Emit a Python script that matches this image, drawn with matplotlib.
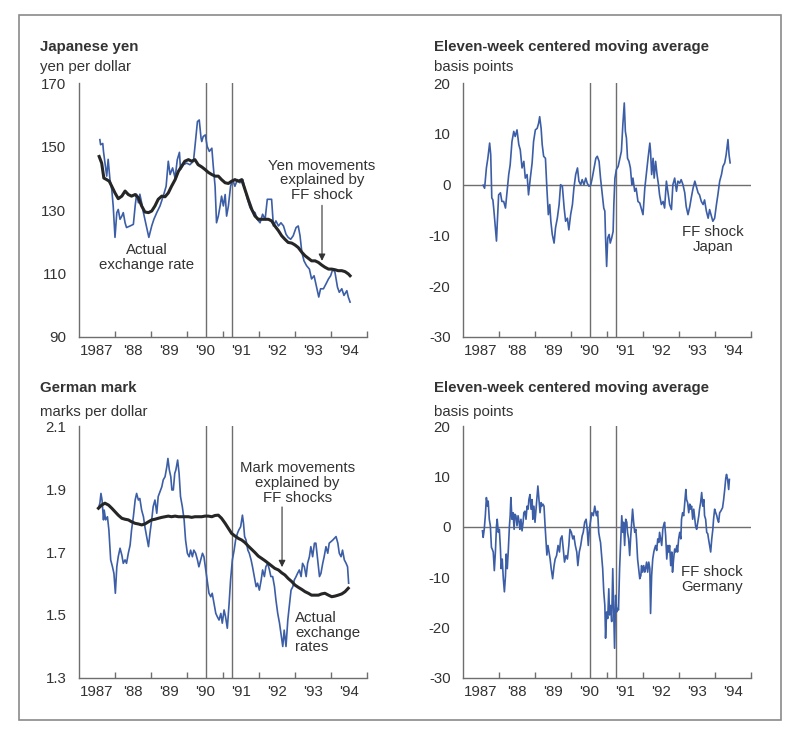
import numpy as np
import matplotlib
matplotlib.use("Agg")
import matplotlib.pyplot as plt
from matplotlib.patches import Rectangle

plt.rcParams['font.family'] = ['Liberation Sans', 'DejaVu Sans']

# ---- data (time as years since start of 1987) ----
year_labels = ['1987', "'88", "'89", "'90", "'91", "'92", "'93", "'94"]
recession = [1990.54, 1991.25]

yen_actual_t = [0.58, 0.60, 0.66, 0.68, 0.72, 0.77, 0.81, 0.86, 0.91, 0.95,
                1.00, 1.05, 1.09, 1.14, 1.19, 1.23, 1.28, 1.32, 1.42, 1.51,
                1.56, 1.60, 1.65, 1.69, 1.74, 1.79, 1.83, 1.88, 1.94, 2.02,
                2.08, 2.16, 2.25, 2.34, 2.42, 2.48, 2.53, 2.60, 2.67, 2.73,
                2.79, 2.82, 2.90, 2.99, 3.08, 3.18, 3.24, 3.29, 3.34, 3.39,
                3.41, 3.45, 3.51, 3.56, 3.62, 3.69, 3.73, 3.78, 3.82, 3.87,
                3.92, 3.96, 4.01, 4.06, 4.10, 4.15, 4.21, 4.27, 4.33, 4.40,
                4.47, 4.55, 4.61, 4.68, 4.75, 4.82, 4.89, 4.95, 5.03, 5.10,
                5.17, 5.23, 5.29, 5.35, 5.40, 5.47, 5.54, 5.61, 5.68, 5.75,
                5.81, 5.88, 5.95, 6.03, 6.09, 6.14, 6.19, 6.25, 6.32, 6.40,
                6.46, 6.53, 6.60, 6.66, 6.71, 6.79, 6.86, 6.93, 6.99, 7.05,
                7.11, 7.18, 7.23, 7.30, 7.36, 7.44, 7.48, 7.53]
yen_actual = [152.2, 150.6, 151.0, 148.5, 145.0, 140.7, 146.0, 139.6, 136.5, 131.3,
              121.4, 129.2, 130.2, 127.1, 128.1, 129.2, 126.0, 124.5, 125.0, 125.5,
              131.3, 135.0, 132.3, 135.0, 132.3, 129.2, 127.1, 124.5, 121.4, 125.0,
              127.1, 129.2, 131.3, 134.4, 137.5, 145.4, 141.2, 143.3, 140.1, 145.9,
              148.2, 142.8, 144.3, 144.8, 144.3, 145.4, 152.2, 157.9, 158.4, 152.7,
              151.6, 153.2, 153.7, 150.1, 148.5, 149.5, 143.8, 137.5, 126.0, 128.1,
              131.3, 134.4, 131.3, 134.9, 128.1, 131.3, 137.5, 139.6, 137.5, 139.6,
              138.6, 139.6, 136.5, 133.4, 130.8, 129.7, 129.2, 127.1, 126.0, 128.7,
              127.1, 133.4, 133.4, 133.4, 125.0, 126.6, 125.0, 126.0, 125.0, 122.4,
              121.4, 120.8, 121.9, 124.5, 125.0, 121.9, 116.7, 114.0, 112.5, 111.4,
              108.3, 109.3, 105.7, 102.6, 105.2, 105.2, 106.7, 108.3, 109.3, 111.4,
              110.4, 105.7, 104.1, 105.2, 103.1, 104.6, 102.6, 101.0]

yen_ff_t = [0.56, 0.63, 0.69, 0.77, 0.84, 0.91, 1.00, 1.09, 1.19, 1.28,
            1.37, 1.46, 1.56, 1.65, 1.74, 1.83, 1.93, 2.02, 2.11, 2.20,
            2.30, 2.39, 2.48, 2.57, 2.67, 2.76, 2.85, 2.94, 3.04, 3.13,
            3.22, 3.31, 3.41, 3.50, 3.59, 3.69, 3.78, 3.87, 3.96, 4.06,
            4.15, 4.24, 4.33, 4.43, 4.52, 4.61, 4.70, 4.80, 4.89, 4.98,
            5.07, 5.17, 5.26, 5.35, 5.44, 5.54, 5.63, 5.72, 5.81, 5.91,
            6.00, 6.09, 6.19, 6.28, 6.37, 6.46, 6.56, 6.65, 6.74, 6.83,
            6.93, 7.02, 7.11, 7.20, 7.30, 7.39, 7.48, 7.53]
yen_ff = [146.9, 144.8, 140.1, 139.6, 139.1, 137.5, 135.4, 133.6, 134.4, 136.0,
          134.9, 134.4, 134.9, 133.9, 131.3, 129.4, 129.2, 129.7, 131.3, 133.4,
          134.4, 134.2, 135.4, 137.5, 139.6, 142.2, 143.8, 145.4, 145.9, 145.4,
          145.9, 144.3, 143.6, 142.8, 141.9, 141.2, 140.7, 140.7, 139.6, 138.6,
          138.4, 139.1, 139.6, 139.1, 139.6, 136.5, 133.4, 130.2, 128.1, 127.1,
          127.1, 127.1, 127.1, 126.6, 125.0, 123.5, 121.9, 120.8, 119.8, 119.6,
          119.0, 118.2, 116.7, 115.6, 114.8, 114.0, 114.0, 113.5, 112.7, 112.0,
          111.4, 111.4, 111.2, 110.9, 110.9, 110.6, 109.9, 109.3]

jp_shock_t = [0.56, 0.60, 0.65, 0.69, 0.74, 0.77, 0.80, 0.83, 0.86, 0.90,
              0.93, 0.95, 0.99, 1.04, 1.08, 1.13, 1.18, 1.22, 1.27, 1.31,
              1.36, 1.41, 1.45, 1.50, 1.55, 1.59, 1.64, 1.69, 1.73, 1.78,
              1.82, 1.87, 1.92, 1.96, 2.01, 2.06, 2.10, 2.13, 2.17, 2.20,
              2.24, 2.29, 2.33, 2.37, 2.41, 2.44, 2.48, 2.53, 2.57, 2.62,
              2.67, 2.71, 2.76, 2.81, 2.85, 2.90, 2.94, 2.99, 3.04, 3.08,
              3.13, 3.18, 3.22, 3.27, 3.31, 3.36, 3.41, 3.45, 3.50, 3.55,
              3.59, 3.64, 3.69, 3.73, 3.78, 3.82, 3.87, 3.91, 3.94, 3.96,
              3.99, 4.02, 4.06, 4.09, 4.13, 4.17, 4.19, 4.22, 4.26, 4.31,
              4.35, 4.40, 4.44, 4.48, 4.51, 4.54, 4.57, 4.61, 4.65, 4.69,
              4.72, 4.77, 4.81, 4.86, 4.91, 4.95, 5.00, 5.05, 5.09, 5.14,
              5.19, 5.21, 5.24, 5.28, 5.31, 5.35, 5.39, 5.43, 5.46, 5.51,
              5.56, 5.60, 5.65, 5.69, 5.74, 5.79, 5.83, 5.88, 5.93, 5.97,
              6.02, 6.06, 6.11, 6.16, 6.20, 6.25, 6.30, 6.34, 6.39, 6.44,
              6.48, 6.53, 6.57, 6.62, 6.67, 6.71, 6.76, 6.81, 6.85, 6.90,
              6.94, 6.99, 7.04, 7.08, 7.13, 7.18, 7.22, 7.27, 7.31, 7.36,
              7.39, 7.42]
jp_shock = [-0.1, -0.7, 3.3, 5.2, 8.2, 5.9, -2.6, -3.0, -5.2, -8.5,
            -11.1, -7.9, -2.0, -1.6, -3.3, -3.3, -4.6, -1.6, 2.0, 3.9,
            8.5, 10.5, 9.5, 10.8, 7.9, 6.9, 3.3, 4.6, 1.3, 2.0,
            -2.0, 1.3, 4.3, 8.5, 10.8, 11.1, 12.1, 13.4, 11.1, 7.9,
            5.6, 5.2, -0.7, -5.9, -3.9, -7.2, -9.8, -11.5, -8.5, -6.6,
            -3.9, 0.0, -0.3, -4.6, -7.2, -6.6, -8.9, -5.9, -3.9, -0.7,
            2.0, 3.3, 0.7, 0.0, 1.0, 0.0, 1.3, 0.3, -0.3, 0.0,
            1.3, 3.3, 5.2, 5.6, 4.6, 1.3, -2.0, -4.6, -5.2, -10.5,
            -16.1, -10.5, -9.8, -11.5, -10.5, -9.2, -3.9, 1.3, 3.0, 3.6,
            4.9, 6.6, 11.8, 16.1, 10.5, 9.2, 5.2, 4.6, 3.3, 0.0,
            1.3, -1.3, -0.7, -3.3, -3.6, -4.6, -5.9, -0.7, 2.0, 5.2,
            8.2, 6.6, 2.0, 5.2, 1.3, 4.6, 2.0, 0.0, -2.0, -3.9,
            -3.3, -4.6, 0.7, -1.3, -3.9, -4.9, 0.0, 1.3, -1.3, 0.7,
            0.3, 1.0, 0.0, -1.6, -4.3, -5.9, -4.3, -2.6, -0.7, 0.7,
            -0.3, -1.6, -2.0, -3.3, -3.9, -3.0, -5.2, -6.6, -4.9, -6.2,
            -7.2, -6.6, -3.9, -2.0, 0.7, 2.0, 3.6, 4.3, 5.9, 8.9,
            5.9, 4.3]

mark_actual_t = [0.54, 0.58, 0.61, 0.64, 0.68, 0.70, 0.74, 0.79, 0.83, 0.88,
                 0.93, 0.97, 1.01, 1.05, 1.09, 1.14, 1.19, 1.23, 1.28, 1.32,
                 1.37, 1.42, 1.46, 1.51, 1.56, 1.60, 1.65, 1.69, 1.74, 1.79,
                 1.83, 1.88, 1.93, 1.97, 2.02, 2.06, 2.11, 2.16, 2.20, 2.25,
                 2.30, 2.34, 2.39, 2.44, 2.47, 2.51, 2.55, 2.58, 2.62, 2.66,
                 2.69, 2.74, 2.78, 2.82, 2.87, 2.92, 2.96, 3.01, 3.06, 3.10,
                 3.15, 3.19, 3.24, 3.29, 3.33, 3.38, 3.43, 3.47, 3.52, 3.56,
                 3.61, 3.66, 3.70, 3.75, 3.80, 3.84, 3.89, 3.94, 3.98, 4.03,
                 4.07, 4.12, 4.17, 4.21, 4.26, 4.31, 4.35, 4.40, 4.44, 4.49,
                 4.54, 4.57, 4.60, 4.64, 4.69, 4.73, 4.78, 4.82, 4.87, 4.92,
                 4.96, 5.01, 5.06, 5.10, 5.15, 5.19, 5.24, 5.29, 5.33, 5.38,
                 5.43, 5.47, 5.52, 5.57, 5.61, 5.66, 5.70, 5.75, 5.80, 5.84,
                 5.89, 5.94, 5.98, 6.03, 6.07, 6.12, 6.17, 6.21, 6.26, 6.31,
                 6.35, 6.40, 6.44, 6.49, 6.54, 6.58, 6.63, 6.68, 6.72, 6.77,
                 6.81, 6.86, 6.91, 6.95, 7.00, 7.05, 7.09, 7.14, 7.19, 7.23,
                 7.28, 7.32, 7.37, 7.42, 7.46, 7.49]
mark_actual = [1.839, 1.855, 1.886, 1.865, 1.802, 1.833, 1.802, 1.812, 1.770, 1.675,
               1.653, 1.632, 1.569, 1.653, 1.685, 1.712, 1.690, 1.664, 1.675, 1.664,
               1.696, 1.722, 1.770, 1.812, 1.865, 1.886, 1.865, 1.870, 1.833, 1.812,
               1.780, 1.749, 1.717, 1.759, 1.802, 1.844, 1.865, 1.823, 1.876, 1.892,
               1.907, 1.929, 1.939, 1.971, 1.997, 1.960, 1.939, 1.897, 1.897, 1.950,
               1.960, 1.992, 1.950, 1.876, 1.844, 1.802, 1.738, 1.696, 1.685, 1.706,
               1.685, 1.706, 1.696, 1.675, 1.653, 1.675, 1.696, 1.685, 1.643, 1.611,
               1.569, 1.558, 1.569, 1.537, 1.505, 1.495, 1.484, 1.505, 1.474, 1.516,
               1.495, 1.458, 1.537, 1.611, 1.675, 1.706, 1.738, 1.759, 1.770, 1.780,
               1.817, 1.791, 1.749, 1.738, 1.706, 1.696, 1.675, 1.653, 1.622, 1.590,
               1.601, 1.579, 1.611, 1.643, 1.622, 1.653, 1.664, 1.643, 1.622, 1.622,
               1.590, 1.548, 1.505, 1.474, 1.442, 1.400, 1.452, 1.400, 1.484, 1.526,
               1.579, 1.590, 1.611, 1.622, 1.632, 1.643, 1.622, 1.664, 1.653, 1.622,
               1.664, 1.685, 1.717, 1.685, 1.728, 1.728, 1.675, 1.622, 1.632, 1.664,
               1.685, 1.717, 1.696, 1.728, 1.733, 1.738, 1.743, 1.749, 1.728, 1.696,
               1.685, 1.706, 1.675, 1.664, 1.653, 1.601]

mark_ff_t = [0.54, 0.63, 0.72, 0.82, 0.91, 1.00, 1.09, 1.19, 1.28, 1.37,
             1.46, 1.56, 1.65, 1.74, 1.83, 1.93, 2.02, 2.11, 2.20, 2.30,
             2.39, 2.48, 2.57, 2.67, 2.76, 2.85, 2.94, 3.04, 3.13, 3.22,
             3.31, 3.41, 3.50, 3.59, 3.69, 3.78, 3.87, 3.96, 4.06, 4.15,
             4.24, 4.33, 4.43, 4.52, 4.61, 4.70, 4.80, 4.89, 4.98, 5.07,
             5.17, 5.26, 5.35, 5.44, 5.54, 5.63, 5.72, 5.81, 5.91, 6.00,
             6.09, 6.19, 6.28, 6.37, 6.46, 6.56, 6.65, 6.74, 6.83, 6.93,
             7.02, 7.11, 7.20, 7.30, 7.39, 7.48]
mark_ff = [1.839, 1.849, 1.855, 1.849, 1.839, 1.828, 1.817, 1.807, 1.804, 1.802,
           1.796, 1.791, 1.789, 1.786, 1.789, 1.796, 1.802, 1.804, 1.807, 1.810,
           1.812, 1.814, 1.812, 1.814, 1.812, 1.812, 1.812, 1.812, 1.810, 1.812,
           1.812, 1.812, 1.814, 1.814, 1.812, 1.816, 1.817, 1.807, 1.791, 1.775,
           1.759, 1.751, 1.743, 1.738, 1.730, 1.719, 1.708, 1.698, 1.687, 1.680,
           1.672, 1.664, 1.656, 1.648, 1.643, 1.634, 1.627, 1.616, 1.606, 1.595,
           1.588, 1.581, 1.574, 1.569, 1.563, 1.563, 1.563, 1.567, 1.569, 1.563,
           1.558, 1.560, 1.563, 1.567, 1.574, 1.585]

ge_shock_t = [0.54, 0.56, 0.59, 0.62, 0.65, 0.68, 0.70, 0.73, 0.76, 0.79,
              0.81, 0.84, 0.87, 0.90, 0.93, 0.95, 0.98, 1.01, 1.04, 1.06,
              1.09, 1.12, 1.15, 1.18, 1.20, 1.23, 1.26, 1.29, 1.31, 1.33,
              1.36, 1.39, 1.42, 1.44, 1.47, 1.50, 1.53, 1.56, 1.58, 1.61,
              1.64, 1.67, 1.69, 1.72, 1.75, 1.78, 1.81, 1.83, 1.86, 1.89,
              1.92, 1.94, 1.97, 2.00, 2.03, 2.06, 2.08, 2.11, 2.14, 2.17,
              2.19, 2.22, 2.25, 2.28, 2.31, 2.33, 2.36, 2.39, 2.42, 2.45,
              2.49, 2.53, 2.56, 2.60, 2.64, 2.68, 2.71, 2.75, 2.79, 2.82,
              2.86, 2.90, 2.94, 2.97, 3.01, 3.05, 3.08, 3.12, 3.16, 3.19,
              3.23, 3.27, 3.31, 3.34, 3.38, 3.42, 3.45, 3.48, 3.51, 3.55,
              3.58, 3.62, 3.66, 3.69, 3.71, 3.74, 3.77, 3.80, 3.82, 3.85,
              3.88, 3.91, 3.94, 3.96, 3.99, 4.02, 4.05, 4.07, 4.10, 4.13,
              4.16, 4.19, 4.21, 4.24, 4.27, 4.30, 4.32, 4.35, 4.38, 4.41,
              4.44, 4.46, 4.49, 4.52, 4.55, 4.57, 4.60, 4.63, 4.66, 4.69,
              4.71, 4.74, 4.77, 4.80, 4.82, 4.85, 4.88, 4.91, 4.94, 4.96,
              4.99, 5.02, 5.05, 5.07, 5.10, 5.13, 5.16, 5.19, 5.21, 5.24,
              5.27, 5.30, 5.32, 5.35, 5.38, 5.41, 5.44, 5.46, 5.49, 5.52,
              5.55, 5.57, 5.60, 5.63, 5.66, 5.69, 5.71, 5.74, 5.77, 5.80,
              5.82, 5.85, 5.88, 5.91, 5.94, 5.96, 5.99, 6.02, 6.05, 6.07,
              6.10, 6.13, 6.16, 6.19, 6.21, 6.24, 6.27, 6.30, 6.32, 6.35,
              6.38, 6.41, 6.44, 6.46, 6.49, 6.52, 6.55, 6.57, 6.60, 6.63,
              6.66, 6.69, 6.71, 6.74, 6.77, 6.80, 6.82, 6.85, 6.88, 6.91,
              6.94, 6.96, 6.99, 7.02, 7.05, 7.07, 7.10, 7.13, 7.16, 7.19,
              7.21, 7.24, 7.27, 7.30, 7.32, 7.35, 7.38, 7.40]
ge_shock = [-0.8, -2.1, -0.5, 2.2, 5.8, 4.1, 5.1, 1.5, 0.2, -4.1,
            -4.4, -5.0, -8.7, -5.0, 0.2, 1.5, -1.1, -0.5, -4.4, -8.3,
            -6.4, -10.3, -12.9, -9.7, -5.4, -8.3, -4.4, 0.2, 2.2, 5.8,
            1.5, 2.8, -0.5, 2.5, 2.2, 0.2, 2.2, 0.9, -0.5, 1.5,
            -0.8, 0.9, 2.8, 3.1, 1.5, 4.1, 3.5, 5.4, 6.4, 3.5,
            5.4, 1.5, 4.1, 0.9, 3.5, 6.1, 8.1, 5.4, 2.8, 4.8,
            4.1, 4.5, 4.1, 0.2, -3.1, -5.6, -3.7, -5.0, -6.4, -8.3,
            -10.3, -7.7, -6.4, -5.7, -3.7, -5.0, -2.4, -1.8, -4.7, -7.0,
            -5.7, -6.4, -3.7, -0.5, -1.1, -2.4, -1.8, -3.7, -5.0, -7.7,
            -5.0, -3.7, -1.8, -1.1, 0.9, 1.5, -0.5, -3.7, -0.5, 1.5,
            2.8, 2.2, 4.1, 2.8, 2.2, 3.1, -1.1, -2.4, -3.1, -5.7,
            -8.3, -12.9, -15.6, -22.1, -16.9, -18.2, -12.3, -17.5, -15.6, -18.8,
            -8.3, -18.2, -24.1, -13.6, -16.9, -16.2, -16.5, -8.3, -3.1, 2.2,
            -1.1, 0.9, -3.7, 1.5, 0.9, -1.1, -2.4, -5.7, -1.8, 1.5,
            3.5, 0.9, -1.1, -0.5, -2.4, -6.4, -8.3, -10.3, -9.7, -7.7,
            -9.0, -7.7, -9.0, -8.3, -7.0, -9.0, -7.0, -8.3, -17.2, -9.7,
            -6.4, -5.0, -4.4, -3.7, -4.7, -2.4, -3.1, -1.1, -2.4, -3.7,
            -0.5, 0.2, 0.9, -1.8, -6.4, -3.7, -5.0, -3.7, -7.7, -5.0,
            -9.0, -6.4, -4.4, -5.0, -3.7, -5.0, -2.4, -1.1, -2.4, 1.5,
            2.8, 2.2, 4.8, 7.4, 5.4, 4.8, 2.8, 4.5, 3.5, 4.1,
            1.5, 3.5, 1.5, 0.2, -0.5, 0.9, 2.2, 3.5, 4.8, 6.8,
            4.1, 5.4, 2.2, 1.5, -1.1, -1.4, -2.4, -3.7, -5.0, -2.4,
            -0.5, 1.5, 3.5, 2.8, 2.2, 1.5, 0.9, 2.8, 3.1, 3.5,
            3.8, 5.4, 7.4, 9.7, 10.4, 9.4, 7.4, 9.4]

BLUE = '#3c5ea6'
BLACK = '#262626'
GREY = '#6e6e6e'
INK = '#333333'
FS = 10.8


def yrs(t):
    return 1987 + np.asarray(t)


def setup(ax, ylim, yticks, ylabels):
    ax.set_xlim(1987, 1995)
    ax.set_ylim(*ylim)
    for s in ['top', 'right']:
        ax.spines[s].set_visible(False)
    for s in ['left', 'bottom']:
        ax.spines[s].set_color(GREY)
        ax.spines[s].set_linewidth(1.0)
    ax.set_xticks(range(1988, 1996))
    ax.set_xticklabels([])
    ax.set_xticks(np.arange(1987.5, 1995, 1), labels=year_labels, minor=True)
    ax.tick_params(axis='x', which='major', direction='in', length=4, width=1, color=GREY)
    ax.tick_params(axis='x', which='minor', length=0, pad=5, labelsize=FS, labelcolor=INK)
    ax.set_yticks(yticks, labels=ylabels)
    ax.tick_params(axis='y', which='major', length=0, pad=9, labelsize=FS, labelcolor=INK)
    ax.set_yticks([ylim[1]], minor=True)
    ax.tick_params(axis='y', which='minor', direction='in', length=4, width=1, color=GREY)
    for v in recession:
        ax.axvline(v, color=GREY, lw=1.0, zorder=1)


fig = plt.figure(figsize=(8, 7.4), dpi=100)
fig.patch.set_facecolor('white')

w, h = 0.36, 0.343
ax1 = fig.add_axes([0.09875, 0.5446, w, h])
ax2 = fig.add_axes([0.57875, 0.5446, w, h])
ax3 = fig.add_axes([0.09875, 0.0838, w, 0.3405])
ax4 = fig.add_axes([0.57875, 0.0838, w, 0.3405])

# Japanese yen
setup(ax1, (90, 170), [90, 110, 130, 150, 170], ['90', '110', '130', '150', '170'])
ax1.plot(yrs(yen_actual_t), yen_actual, color=BLUE, lw=1.2, zorder=3)
ax1.plot(yrs(yen_ff_t), yen_ff, color=BLACK, lw=2.2, zorder=4)
ax1.text(1988.89, 115.0, 'Actual\nexchange rate', ha='center', va='center',
         fontsize=FS, color=INK, linespacing=1.05)
ax1.text(1993.75, 139.4, 'Yen movements\nexplained by\nFF shock', ha='center', va='center',
         fontsize=FS, color=INK, linespacing=1.05)
ax1.annotate('', xy=(1993.75, 114.0), xytext=(1993.75, 131.5),
             arrowprops=dict(arrowstyle='-|>', color=INK, lw=0.8, mutation_scale=10,
                             shrinkA=0, shrinkB=0))

# Japan FF shock
setup(ax2, (-30, 20), [-30, -20, -10, 0, 10, 20], ['-30', '-20', '-10', '0', '10', '20'])
ax2.axhline(0, color=GREY, lw=1.0, zorder=1)
ax2.plot(yrs(jp_shock_t), jp_shock, color=BLUE, lw=1.2, zorder=3)
ax2.text(1993.94, -10.8, 'FF shock\nJapan', ha='center', va='center',
         fontsize=FS, color=INK, linespacing=1.05)

# German mark
setup(ax3, (1.3, 2.1), [1.3, 1.5, 1.7, 1.9, 2.1], ['1.3', '1.5', '1.7', '1.9', '2.1'])
ax3.plot(yrs(mark_actual_t), mark_actual, color=BLUE, lw=1.2, zorder=3)
ax3.plot(yrs(mark_ff_t), mark_ff, color=BLACK, lw=2.2, zorder=4)
ax3.text(1993.06, 1.919, 'Mark movements\nexplained by\nFF shocks', ha='center', va='center',
         fontsize=FS, color=INK, linespacing=1.05)
ax3.annotate('', xy=(1992.64, 1.652), xytext=(1992.64, 1.843),
             arrowprops=dict(arrowstyle='-|>', color=INK, lw=0.8, mutation_scale=10,
                             shrinkA=0, shrinkB=0))
ax3.text(1993.0, 1.443, 'Actual\nexchange\nrates', ha='left', va='center',
         fontsize=FS, color=INK, linespacing=1.05)

# Germany FF shock
setup(ax4, (-30, 20), [-30, -20, -10, 0, 10, 20], ['-30', '-20', '-10', '0', '10', '20'])
ax4.axhline(0, color=GREY, lw=1.0, zorder=1)
ax4.plot(yrs(ge_shock_t), ge_shock, color=BLUE, lw=1.2, zorder=3)
ax4.text(1993.92, -10.5, 'FF shock\nGermany', ha='center', va='center',
         fontsize=FS, color=INK, linespacing=1.05)

# panel headings
def heading(x, y_title, y_unit, title, unit):
    fig.text(x / 800, 1 - y_title / 740, title, fontsize=FS, fontweight='bold',
             color=INK, va='center', ha='left')
    fig.text(x / 800, 1 - y_unit / 740, unit, fontsize=FS, color=INK,
             va='center', ha='left')

heading(40, 47, 67, 'Japanese yen', 'yen per dollar')
heading(434, 47, 67, 'Eleven-week centered moving average', 'basis points')
heading(40, 388, 412, 'German mark', 'marks per dollar')
heading(434, 388, 412, 'Eleven-week centered moving average', 'basis points')

# outer frame
fig.add_artist(Rectangle((19 / 800, 1 - 720 / 740), 762 / 800, 705 / 740,
                         transform=fig.transFigure, fill=False,
                         edgecolor='#8a8a8a', lw=1.2))

fig.savefig('out.png', dpi=100, facecolor='white')
